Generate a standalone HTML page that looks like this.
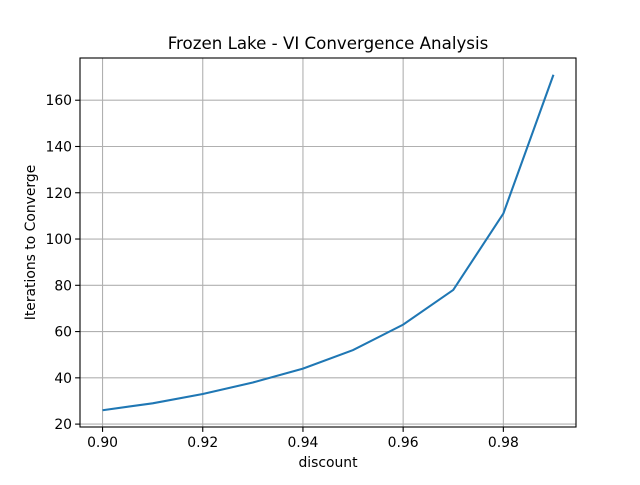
<!DOCTYPE html>
<html><head><meta charset="utf-8"><style>
body{margin:0;background:#fff}
svg text{font-family:"DejaVu Sans","Liberation Sans",sans-serif;fill:#000}
</style></head><body>
<svg id="chart" width="640" height="480">
<rect width="640" height="480" fill="#fff"/>
<text x="328" y="49" font-size="16.67" text-anchor="middle">Frozen Lake - VI Convergence Analysis</text>
<g id="grid"></g>
<g id="ticks"></g>
<path id="line" fill="none" stroke="#1f77b4" stroke-width="2.08"/>
<rect x="80" y="58" width="496" height="369" fill="none" stroke="#000" stroke-width="1.1"/>
<text x="328" y="467" font-size="13.9" text-anchor="middle">discount</text>
<text x="0" y="0" font-size="13.9" text-anchor="middle" transform="translate(35,242.5) rotate(-90)">Iterations to Converge</text>
</svg>
<script>
const discounts=[0.90,0.91,0.92,0.93,0.94,0.95,0.96,0.97,0.98,0.99];
const iterations=[26,29,33,38,44,52,63,78,111,171];
const xTicks=[0.90,0.92,0.94,0.96,0.98];
const xTickLabels=["0.90","0.92","0.94","0.96","0.98"];
const yTicks=[20,40,60,80,100,120,140,160];
const yTickLabels=["20","40","60","80","100","120","140","160"];
const L=80,R=576,T=58,B=427;
const xmin=Math.min(...discounts),xmax=Math.max(...discounts);
const ymin=Math.min(...iterations),ymax=Math.max(...iterations);
const xm=(xmax-xmin)*0.05,ym=(ymax-ymin)*0.05;
const sx=v=>L+(v-(xmin-xm))/((xmax+xm)-(xmin-xm))*(R-L);
const sy=v=>B-(v-(ymin-ym))/((ymax+ym)-(ymin-ym))*(B-T);
const NS="http://www.w3.org/2000/svg";
const grid=document.getElementById('grid'),ticks=document.getElementById('ticks');
function mk(tag,attrs,parent){const e=document.createElementNS(NS,tag);for(const k in attrs)e.setAttribute(k,attrs[k]);parent.appendChild(e);return e;}
xTicks.forEach((t,i)=>{const x=sx(t);
const g=mk('line',{x1:x,x2:x,y1:T,y2:B,stroke:'#b0b0b0','stroke-width':1.1},grid);


const tk=mk('line',{x1:x,x2:x,y1:B,y2:B+4.9,stroke:'#000','stroke-width':1.1},ticks);


const tx=mk('text',{x:x,y:B+20,'font-size':13.9,'text-anchor':'middle'},ticks);tx.textContent=xTickLabels[i];

});
yTicks.forEach((t,i)=>{const y=sy(t);
const g=mk('line',{x1:L,x2:R,y1:y,y2:y,stroke:'#b0b0b0','stroke-width':1.1},grid);


const tk=mk('line',{x1:L-4.9,x2:L,y1:y,y2:y,stroke:'#000','stroke-width':1.1},ticks);


const tx=mk('text',{x:L-8,y:y+5,'font-size':13.9,'text-anchor':'end'},ticks);tx.textContent=yTickLabels[i];

});
document.getElementById('line').setAttribute('d',discounts.map((d,i)=>(i?'L':'M')+sx(d)+','+sy(iterations[i])).join(' '));
</script>
</body></html>
